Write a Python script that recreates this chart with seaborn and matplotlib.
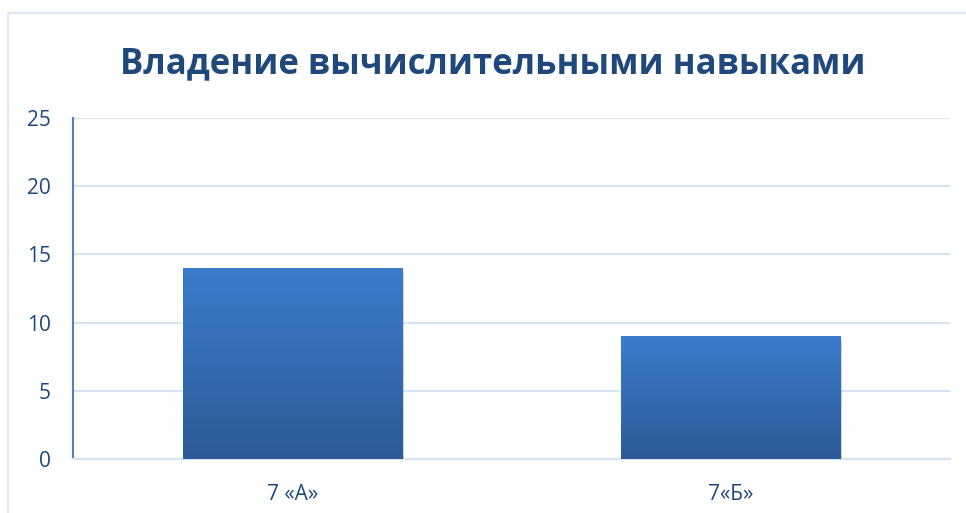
import numpy as np
import pandas as pd
import matplotlib
matplotlib.use('Agg')
import matplotlib.pyplot as plt
import matplotlib.patheffects as pe
from matplotlib.patches import Rectangle
from matplotlib.colors import LinearSegmentedColormap
import seaborn as sns

# Chart data
classes = ['7 «А»', '7«Б»']
scores = [14, 9]
y_ticks = [0, 5, 10, 15, 20, 25]
title = 'Владение вычислительными навыками'

df = pd.DataFrame({'Класс': classes, 'Значение': scores})

sns.set_style('white')
plt.rcParams['font.family'] = ['Open Sans', 'DejaVu Sans']

text_color = '#1F497D'
grid_color = '#D9E4F2'

fig = plt.figure(figsize=(9.66, 5.13), dpi=100)

# outer chart border
fig.patches.append(Rectangle((8 / 966, -0.1), 1.2, 1 - 13 / 513 + 0.1,
                             transform=fig.transFigure, fill=False,
                             edgecolor=grid_color, linewidth=1.2, zorder=0))

ax = fig.add_axes([73 / 966, 1 - 459 / 513, 877 / 966, 341 / 513])
sns.barplot(data=df, x='Класс', y='Значение', width=0.5, color='#3A78C4',
            ax=ax, zorder=3)

# gradient fill + soft shadow on each bar
cmap = LinearSegmentedColormap.from_list('bar', ['#2D5B96', '#3B7DCC'])
grad = np.linspace(0, 1, 256).reshape(-1, 1)
for bar in ax.patches:
    bar.set_path_effects([pe.SimplePatchShadow(offset=(1.5, -3), alpha=0.3,
                                               shadow_rgbFace='#444444'),
                          pe.Normal()])
    x0, y0 = bar.get_x(), bar.get_y()
    w, h = bar.get_width(), bar.get_height()
    im = ax.imshow(grad, cmap=cmap, extent=[x0, x0 + w, y0, y0 + h],
                   origin='lower', aspect='auto', zorder=4)
    im.set_clip_path(bar)

ax.set_xlim(-0.5, 1.5)
ax.set_ylim(0, 25)
ax.set_yticks(y_ticks)
ax.set_yticklabels([str(t) for t in y_ticks])
ax.yaxis.grid(True, color=grid_color, linewidth=1.6, zorder=0)
ax.set_axisbelow(True)

for side in ['top', 'right']:
    ax.spines[side].set_visible(False)
ax.spines['left'].set_color('#4F81BD')
ax.spines['left'].set_linewidth(1.5)
ax.spines['bottom'].set_color(grid_color)
ax.spines['bottom'].set_linewidth(1.6)

ax.tick_params(axis='y', length=0, pad=16, labelsize=15, labelcolor=text_color)
ax.tick_params(axis='x', length=0, pad=18, labelsize=15, labelcolor=text_color)
ax.set_xlabel('')
ax.set_ylabel('')

fig.text(493 / 966, 1 - 64 / 513, title, ha='center', va='center',
         fontsize=25, fontweight='bold', color=text_color)

fig.savefig('out.png', dpi=100)
